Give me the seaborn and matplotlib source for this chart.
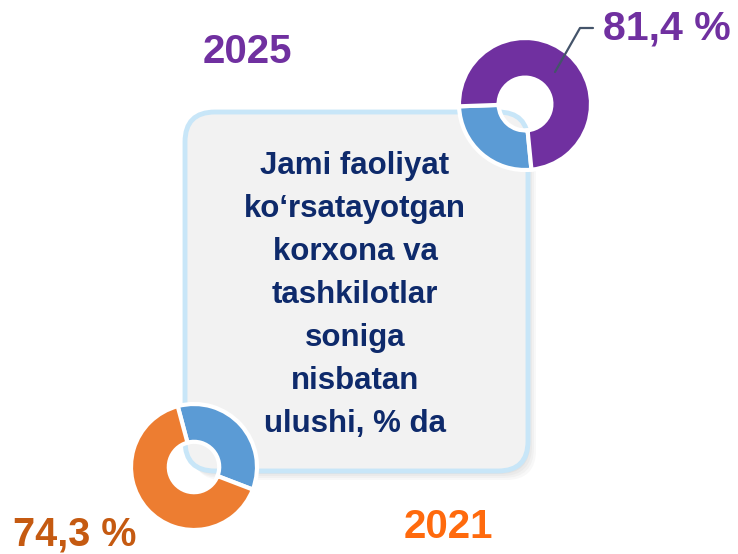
import matplotlib.pyplot as plt
import seaborn as sns
from matplotlib.patches import FancyBboxPatch

# Data
years = ["2025", "2021"]
value_labels = ["81,4 %", "74,3 %"]
top_shares = [26, 74]      # blue, purple (as drawn)
bottom_shares = [35, 65]   # blue, orange (as drawn)
top_colors = ["#5b9bd5", "#7030a0"]
bottom_colors = ["#5b9bd5", "#ed7d31"]
box_lines = ["Jami faoliyat", "ko\u2018rsatayotgan", "korxona va",
             "tashkilotlar", "soniga", "nisbatan", "ulushi, % da"]

sns.set_theme(style="white")
plt.rcParams["font.family"] = ["Liberation Sans", "DejaVu Sans"]

W, H = 738, 554
fig = plt.figure(figsize=(W / 100, H / 100), dpi=100)
fig.patch.set_facecolor("white")

# Background axes in pixel coords
bg = fig.add_axes([0, 0, 1, 1])
bg.set_xlim(0, W)
bg.set_ylim(H, 0)
bg.axis("off")

# Box shadow
for i, a in enumerate([0.05, 0.05, 0.06, 0.07]):
    off = 8 - i * 2
    bg.add_patch(FancyBboxPatch((185 + off, 112 + off), 343, 360,
                                boxstyle="round,pad=0,rounding_size=30",
                                facecolor="#7f7f7f", edgecolor="none", alpha=a))
# Box
bg.add_patch(FancyBboxPatch((185, 112), 343, 359,
                            boxstyle="round,pad=0,rounding_size=30",
                            facecolor="#f2f2f2", edgecolor="#c8e6f8", linewidth=3.5))


def donut(cx, cy, r, shares, colors, start):
    size = r + 6
    ax = fig.add_axes([(cx - size) / W, (H - cy - size) / H, 2 * size / W, 2 * size / H])
    ax.pie(shares, colors=colors, startangle=start, counterclock=True,
           radius=r / size,
           wedgeprops=dict(width=0.6 * r / size, edgecolor="white", linewidth=3))
    ax.set_xlim(-1, 1)
    ax.set_ylim(-1, 1)
    ax.set_aspect("equal")
    ax.axis("off")
    return ax


donut(525, 104, 66, top_shares, top_colors, 182)
donut(194, 467, 63, bottom_shares, bottom_colors, -21)

# Foreground axes for text
fg = fig.add_axes([0, 0, 1, 1])
fg.set_xlim(0, W)
fg.set_ylim(H, 0)
fg.axis("off")
fg.patch.set_alpha(0)

fg.text(355, 295, "\n".join(box_lines), ha="center", va="center",
        fontsize=22.5, fontweight="bold", color="#0e2a6b", linespacing=1.57)

fg.text(247, 52, years[0], ha="center", va="center", fontsize=29,
        fontweight="bold", color="#7030a0")
fg.text(448, 527, years[1], ha="center", va="center", fontsize=29,
        fontweight="bold", color="#ff6a0d")
fg.text(667, 28, value_labels[0], ha="center", va="center", fontsize=29.5,
        fontweight="bold", color="#7030a0")
fg.text(75, 535, value_labels[1], ha="center", va="center", fontsize=28.5,
        fontweight="bold", color="#c55a11")

# Leader line to 81,4 %
fg.plot([555, 580, 593], [72, 28, 28], color="#44546a", linewidth=1.6)

fig.savefig("out.png", dpi=100)
